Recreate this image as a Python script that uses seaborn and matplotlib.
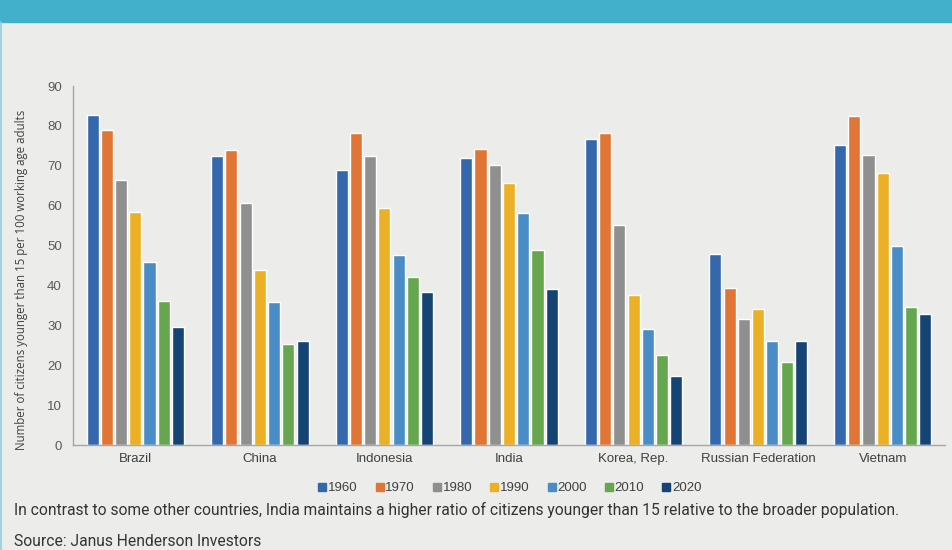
import matplotlib
matplotlib.use("Agg")
import matplotlib.pyplot as plt
import seaborn as sns
import pandas as pd
from matplotlib.patches import Rectangle
from matplotlib.lines import Line2D

countries = ["Brazil", "China", "Indonesia", "India", "Korea, Rep.", "Russian Federation", "Vietnam"]
years = ["1960", "1970", "1980", "1990", "2000", "2010", "2020"]
v1960 = [82.7, 72.5, 69.0, 72.0, 76.6, 47.8, 75.2]
v1970 = [79.0, 74.0, 78.2, 74.3, 78.2, 39.3, 82.5]
v1980 = [66.4, 60.6, 72.4, 70.2, 55.2, 31.5, 72.6]
v1990 = [58.4, 44.0, 59.5, 65.6, 37.6, 34.1, 68.3]
v2000 = [45.9, 35.8, 47.7, 58.2, 29.2, 26.2, 50.0]
v2010 = [36.1, 25.2, 42.2, 48.8, 22.5, 20.7, 34.7]
v2020 = [29.6, 26.2, 38.3, 39.0, 17.2, 26.2, 32.8]
colors = ["#3567ac", "#e07535", "#8e8f8e", "#ebb025", "#4a8dc6", "#66a64f", "#154373"]

series = [v1960, v1970, v1980, v1990, v2000, v2010, v2020]
rows = []
for y, vals in zip(years, series):
    for c, v in zip(countries, vals):
        rows.append({"country": c, "year": y, "value": v})
df = pd.DataFrame(rows)

sns.set_style("white")
plt.rcParams["font.family"] = ["Liberation Sans", "DejaVu Sans"]
BG = "#ececea"
fig = plt.figure(figsize=(9.53, 5.5), dpi=100, facecolor=BG)
ax = fig.add_axes([0.0766, 0.1909, 0.9150, 0.6527])
ax.set_facecolor(BG)

sns.barplot(data=df, x="country", y="value", hue="year", hue_order=years,
            order=countries, palette=colors, width=0.8, gap=0.15,
            saturation=1, ax=ax, legend=False)

ax.set_xlim(-0.5, 6.5)
ax.set_ylim(0, 90)
ax.set_yticks(range(0, 91, 10))
ax.tick_params(axis="y", length=0, labelsize=9.5, labelcolor="#595959", pad=8)
ax.tick_params(axis="x", length=0, labelsize=9.5, labelcolor="#404040", pad=6)
ax.set_xlabel("")
ax.set_ylabel("Number of citizens younger than 15 per 100 working age adults",
              fontsize=8.3, color="#404040", family=["Open Sans", "DejaVu Sans"])
ax.yaxis.set_label_coords(-45 / 872, 0.46)
for s in ["top", "right"]:
    ax.spines[s].set_visible(False)
for s in ["left", "bottom"]:
    ax.spines[s].set_color("#a6a6a6")
    ax.spines[s].set_linewidth(1.0)

handles = [Line2D([], [], marker="s", linestyle="", markersize=5.5, color=c) for c in colors]
fig.legend(handles, years, loc="center", bbox_to_anchor=(0.535, 1 - 488 / 550), ncol=7,
           frameon=False, fontsize=9.5, handlelength=0.6, handletextpad=0.15,
           columnspacing=1.35, labelcolor="#404040")

# top band and left border
fig.add_artist(Rectangle((0, 1 - 22 / 550), 1, 22 / 550, transform=fig.transFigure,
                         color="#42afcb", zorder=0))
fig.add_artist(Line2D([0.0015, 0.0015], [0, 1 - 22 / 550], transform=fig.transFigure,
                      color="#8fcfe0", linewidth=1.2))

fig.text(14 / 953, 1 - 510 / 550, "In contrast to some other countries, India maintains a higher ratio of citizens younger than 15 relative to the broader population.",
         fontsize=11.25, color="#333333", va="center", ha="left", family=["Roboto", "DejaVu Sans"])
fig.text(14 / 953, 1 - 541 / 550, "Source: Janus Henderson Investors",
         fontsize=11.25, color="#333333", va="center", ha="left", family=["Roboto", "DejaVu Sans"])

fig.savefig("out.png", dpi=100, facecolor=BG)
